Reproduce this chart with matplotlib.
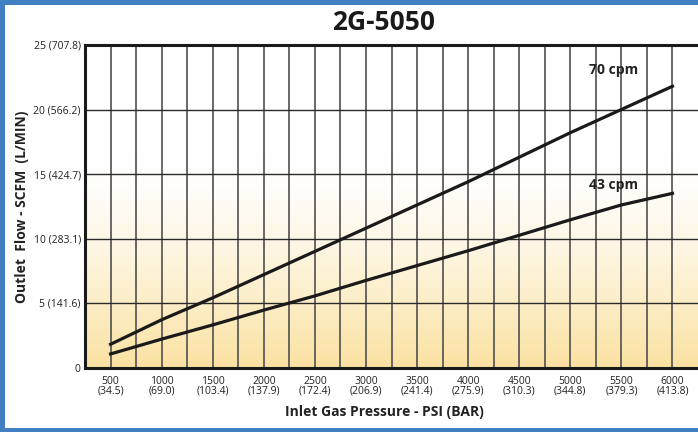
import numpy as np
import matplotlib
matplotlib.use("Agg")
import matplotlib.pyplot as plt
from matplotlib.patches import Rectangle

plt.rcParams['font.family'] = ['Open Sans', 'DejaVu Sans']

# datos
presion = [500, 1000, 1500, 2000, 2500, 3000, 3500, 4000, 4500, 5000, 5500, 6000]
flujo_70 = [1.8, 3.7, 5.4, 7.2, 9.0, 10.8, 12.6, 14.4, 16.3, 18.2, 20.0, 21.8]
flujo_43 = [1.05, 2.2, 3.3, 4.45, 5.55, 6.75, 7.9, 9.05, 10.25, 11.45, 12.6, 13.5]

xticks = [500, 1000, 1500, 2000, 2500, 3000, 3500, 4000, 4500, 5000, 5500, 6000]
xlabels = ['500\n(34.5)', '1000\n(69.0)', '1500\n(103.4)', '2000\n(137.9)', '2500\n(172.4)',
           '3000\n(206.9)', '3500\n(241.4)', '4000\n(275.9)', '4500\n(310.3)', '5000\n(344.8)',
           '5500\n(379.3)', '6000\n(413.8)']
yticks = [0, 5, 10, 15, 20, 25]
ylabels = ['0', '5 (141.6)', '10 (283.1)', '15 (424.7)', '20 (566.2)', '25 (707.8)']

fig = plt.figure(figsize=(6.98, 4.32), dpi=100, facecolor='#3f7fc2')
# panel blanco
panel = Rectangle((5 / 698, 4 / 432), 1.0, 423 / 432, transform=fig.transFigure,
                  facecolor='white', edgecolor='none', zorder=-5)
fig.add_artist(panel)

ax = fig.add_axes([85 / 698, 1 - 367.5 / 432, 613 / 698, 322.5 / 432])
ax.set_zorder(2)
ax.set_xlim(250, 6250)
ax.set_ylim(0, 25)

# fondo degradado blanco -> amarillo
grad = np.linspace(0, 1, 256)
colores = np.zeros((256, 1, 3))
top = np.array([1.0, 1.0, 1.0])
bot = np.array([0.984, 0.886, 0.635])
for i, g in enumerate(grad):
    t = ((0.65 - g) / 0.65) ** 1.4 if g < 0.65 else 0.0
    colores[i, 0] = top * (1 - t) + bot * t
ax.imshow(colores, extent=[250, 6250, 0, 25], origin='lower', aspect='auto', zorder=0)

# rejilla
for x in np.arange(500, 6250, 250):
    ax.axvline(x, color='#505050', lw=1.2, zorder=1)
for y in [5, 10, 15, 20]:
    ax.axhline(y, color='#2a2a2a', lw=1.0, zorder=1)

ax.plot(presion, flujo_70, color='#1a1a1a', lw=2.3, zorder=3)
ax.plot(presion, flujo_43, color='#1a1a1a', lw=2.3, zorder=3)
ax.text(5420, 23.1, '70 cpm', ha='center', va='center', fontsize=10, fontweight='bold',
        color='#222222', zorder=4)
ax.text(5420, 14.15, '43 cpm', ha='center', va='center', fontsize=10, fontweight='bold',
        color='#222222', zorder=4)

for s in ['left', 'bottom', 'top']:
    ax.spines[s].set_linewidth(2.2)
    ax.spines[s].set_color('#1a1a1a')
ax.spines['right'].set_visible(False)

ax.set_xticks(xticks)
ax.set_xticklabels(xlabels, fontsize=7.5, linespacing=0.85, color='#222222')
ax.set_yticks(yticks)
ax.set_yticklabels(ylabels, fontsize=7.5, color='#222222')
ax.tick_params(axis='both', length=0)
ax.tick_params(axis='x', pad=6)
ax.tick_params(axis='y', pad=3)

fig.text(384 / 698, 1 - 23 / 432, '2G-5050', ha='center', va='center', fontsize=19,
         fontweight='bold', color='#1a1a1a')
fig.text(384 / 698, 1 - 412 / 432, 'Inlet Gas Pressure - PSI (BAR)', ha='center', va='center',
         fontsize=10, fontweight='bold', color='#222222')
fig.text(22 / 698, 1 - 207 / 432, 'Outlet  Flow - SCFM  (L/MIN)', ha='center', va='center',
         rotation=90, fontsize=10, fontweight='bold', color='#222222')

fig.savefig('out.png', dpi=100, facecolor=fig.get_facecolor())
